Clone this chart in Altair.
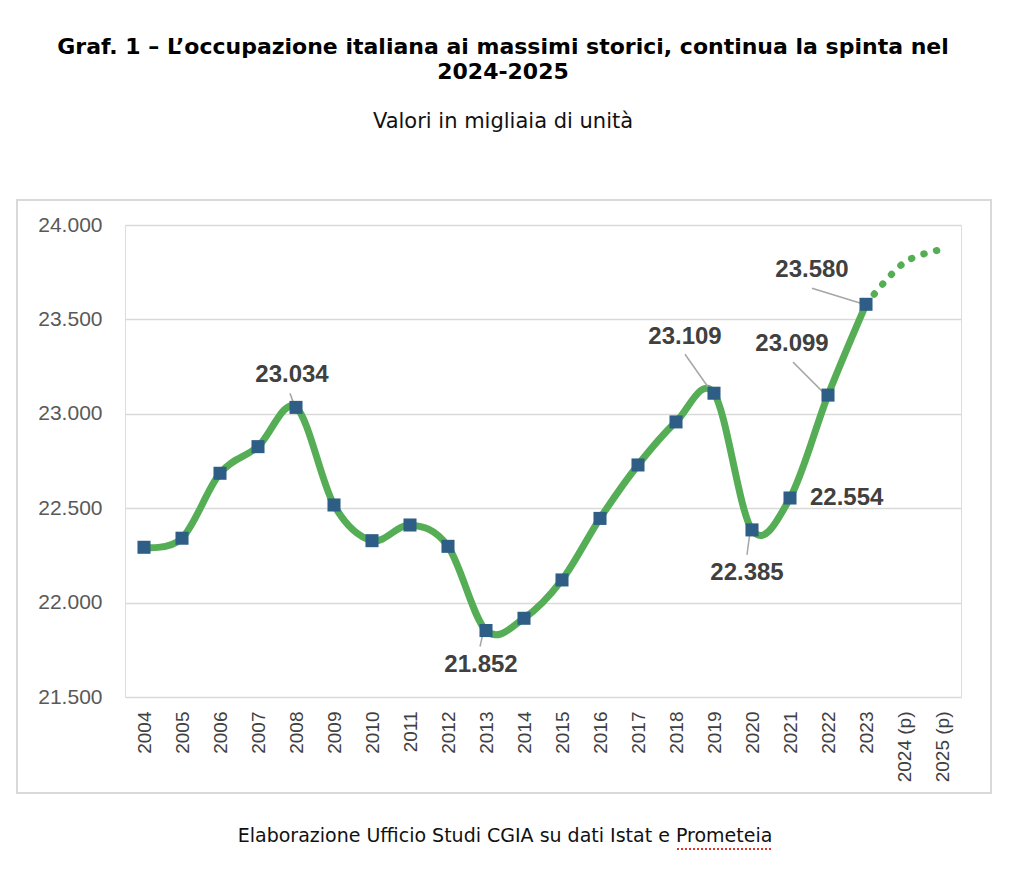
import altair as alt
import pandas as pd

years = ["2004", "2005", "2006", "2007", "2008", "2009", "2010", "2011", "2012", "2013",
         "2014", "2015", "2016", "2017", "2018", "2019", "2020", "2021", "2022", "2023",
         "2024 (p)", "2025 (p)"]
actual_values = [22293, 22341, 22685, 22826, 23034, 22517, 22328, 22411, 22298, 21852,
                 21917, 22120, 22446, 22729, 22957, 23109, 22385, 22554, 23099, 23580]
forecast_values = [23800, 23870]
y_ticks = [21500, 22000, 22500, 23000, 23500, 24000]
labelled_years = ["2008", "2013", "2019", "2020", "2021", "2022", "2023"]

title_lines = ["Graf. 1 \u2013 L\u2019occupazione italiana ai massimi storici, continua la spinta nel", "2024-2025"]
subtitle_text = "Valori in migliaia di unit\u00e0"
caption_text = "Elaborazione Ufficio Studi CGIA su dati Istat e Prometeia"

# label styling offsets (pixels): text dx, dy, align; leader start/end offsets
label_style = {
    "2008": dict(dx=-4, dy=-32, align="center", lead=(-6, -14, -2, -3)),
    "2013": dict(dx=-5, dy=34, align="center", lead=(-3, 3, -6, 16)),
    "2019": dict(dx=-29, dy=-56, align="center", lead=(-29, -39, -3, -2)),
    "2020": dict(dx=-5, dy=43, align="center", lead=(-2, 2, -5, 25)),
    "2021": dict(dx=20, dy=0, align="left", lead=None),
    "2022": dict(dx=-36, dy=-51, align="center", lead=(-35, -33, -3, -1)),
    "2023": dict(dx=-54, dy=-34, align="center", lead=(-54, -16, -2, 0)),
}

actual_df = pd.DataFrame({"year": years[:len(actual_values)], "value": actual_values})
forecast_df = pd.DataFrame({"year": [years[len(actual_values) - 1]] + years[len(actual_values):],
                            "value": [actual_values[-1]] + forecast_values})
actual_df["label"] = actual_df["value"].map(lambda v: f"{v:,}".replace(",", "."))

GREEN = "#55AE55"
BLUE = "#2E5E86"
W, H = 836, 472

x_enc = alt.X("year:O", scale=alt.Scale(domain=years, type="point", padding=0.5),
              axis=alt.Axis(title=None, labelAngle=270, labelFontSize=19, labelFont="Liberation Sans",
                            labelColor="#404040", labelPadding=14, ticks=False, domain=False, grid=False))
y_enc = alt.Y("value:Q", scale=alt.Scale(domain=[21500, 24000], nice=False, zero=False),
              axis=alt.Axis(title=None, values=y_ticks, labelFontSize=21, labelFont="Liberation Sans",
                            labelColor="#595959", labelPadding=23, ticks=False, domain=False,
                            grid=True, gridColor="#D9D9D9", gridWidth=1.5,
                            labelExpr="replace(format(datum.value, ',d'), ',', '.')"))

base = alt.Chart(actual_df)

main_line = base.mark_line(color=GREEN, strokeWidth=7, interpolate="cardinal").encode(x=x_enc, y=y_enc)
dotted_line = alt.Chart(forecast_df).mark_line(color=GREEN, strokeWidth=7, interpolate="cardinal",
                                               strokeDash=[0.5, 12.5], strokeCap="round").encode(
    x=alt.X("year:O"), y=alt.Y("value:Q"))
markers = base.mark_point(shape="square", filled=True, size=170, color=BLUE, opacity=1).encode(
    x=alt.X("year:O"), y=alt.Y("value:Q"))

one_row = alt.Data(values=[{"a": 1}])
layers = []
# border box around the chart area
border = alt.Chart(one_row).mark_rect(
    fill="white", fillOpacity=0, stroke="#D9D9D9", strokeWidth=2).encode(
    x=alt.value(-108), x2=alt.value(866), y=alt.value(-25), y2=alt.value(568))
layers.append(border)
layers += [main_line, dotted_line]

for yr in labelled_years:
    st = label_style[yr]
    sub = base.transform_filter(alt.datum.year == yr)
    if st["lead"] is not None:
        sx, sy, ex, ey = st["lead"]
        layers.append(sub.mark_rule(color="#A6A6A6", strokeWidth=1.5, xOffset=sx, yOffset=sy,
                                    x2Offset=ex, y2Offset=ey).encode(
            x=alt.X("year:O"), y=alt.Y("value:Q"), x2=alt.X2("year"), y2=alt.Y2("value")))
    layers.append(sub.mark_text(font="Liberation Sans", fontWeight="bold", fontSize=24, color="#404040",
                                dx=st["dx"], dy=st["dy"], align=st["align"], baseline="middle").encode(
        x=alt.X("year:O"), y=alt.Y("value:Q"), text="label:N"))

layers.append(markers)

caption = alt.Chart(alt.Data(values=[{"t": caption_text}])).mark_text(
    font="DejaVu Sans", fontSize=19, color="#111111", align="center", baseline="middle").encode(
    x=alt.value(380), y=alt.value(611), text="t:N")
layers.append(caption)
# red dotted spell-check underline under "Prometeia"
squiggle = alt.Chart(one_row).mark_rule(color="#E0352B", strokeWidth=2, strokeDash=[2, 2]).encode(
    x=alt.value(552), x2=alt.value(648), y=alt.value(624))
layers.append(squiggle)

chart = alt.layer(*layers).properties(
    width=W, height=H,
    autosize=alt.AutoSizeParams(type="none"),
    padding={"left": 117, "top": 217, "right": 40, "bottom": 160},
    title=alt.TitleParams(text=title_lines, subtitle=subtitle_text, anchor="middle", dx=-40,
                          font="DejaVu Sans", fontSize=22, fontWeight="bold", color="#000000",
                          lineHeight=25, subtitleFont="DejaVu Sans", subtitleFontSize=21,
                          subtitleColor="#111111", subtitlePadding=27, offset=66),
).configure_view(stroke=None).configure(background="white")

chart.save("out.html", embed_options={"renderer": "svg", "actions": False})
